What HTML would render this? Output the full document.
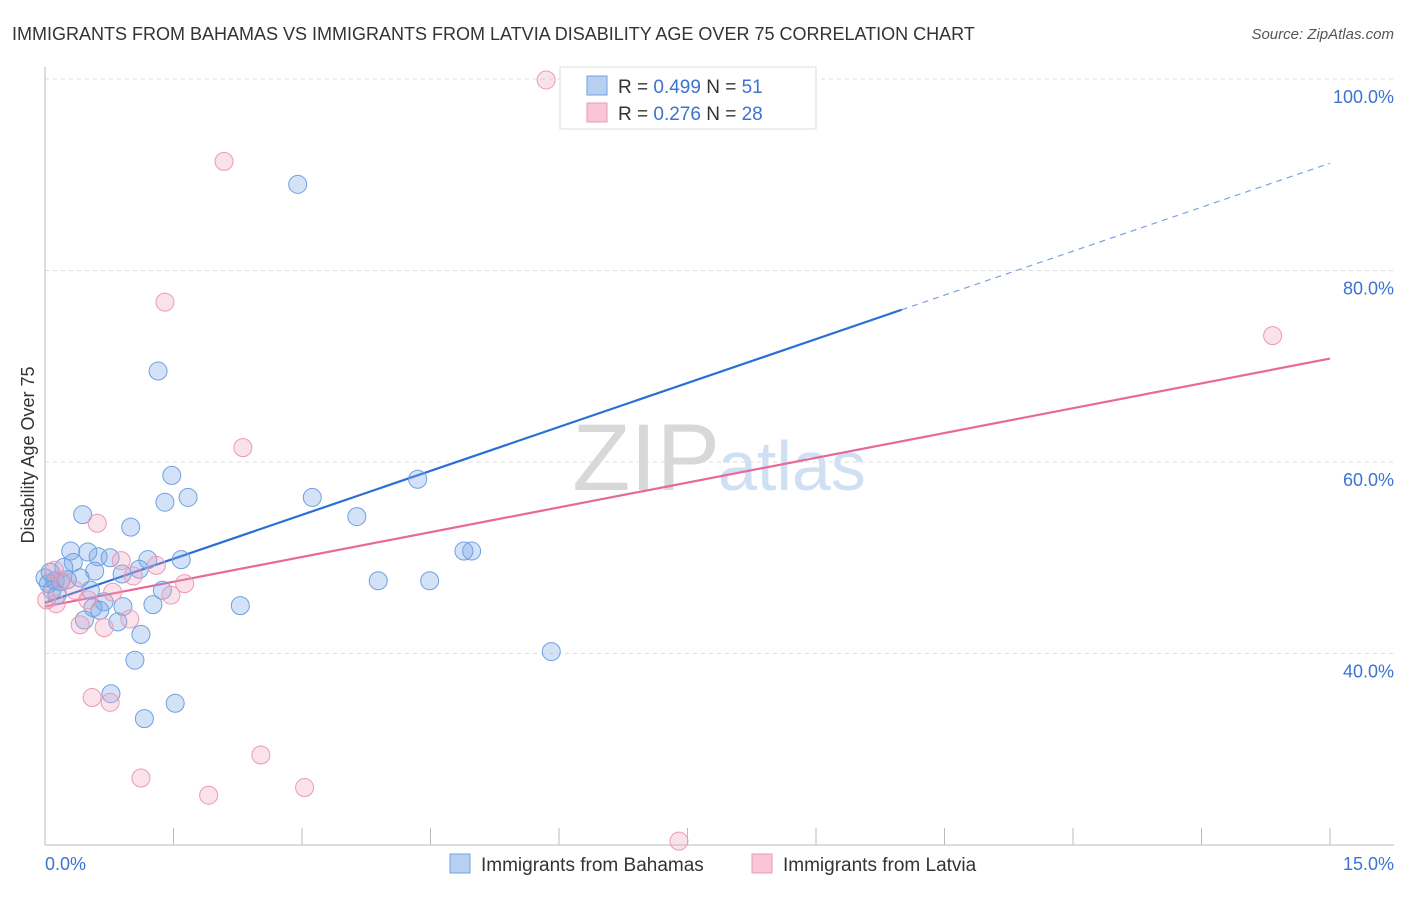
<!DOCTYPE html>
<html><head><meta charset="utf-8"><style>
body{margin:0;background:#fff;font-family:"Liberation Sans",sans-serif;}
svg text{font-family:"Liberation Sans",sans-serif;}
</style></head><body>
<svg width="1406" height="892" viewBox="0 0 1406 892" xmlns="http://www.w3.org/2000/svg">
<text x="12" y="40" font-size="18" fill="#333">IMMIGRANTS FROM BAHAMAS VS IMMIGRANTS FROM LATVIA DISABILITY AGE OVER 75 CORRELATION CHART</text>
<text x="1394" y="39" font-size="15" fill="#555" text-anchor="end" font-style="italic">Source: ZipAtlas.com</text>
<text x="720" y="490" font-size="95" fill="#d8d8d8" text-anchor="end" font-family="Liberation Serif">ZIP</text>
<text x="718" y="490" font-size="70" fill="#cfe0f3">atlas</text>
<g id="grid"></g><g id="axes"></g><g id="lines"></g><g id="pts"></g>
<text transform="translate(34,455) rotate(-90)" font-size="18" fill="#333" text-anchor="middle">Disability Age Over 75</text>
<text x="45" y="870" font-size="18" fill="#3b73d1">0.0%</text>
<text x="1394" y="870" font-size="18" fill="#3b73d1" text-anchor="end">15.0%</text>
<g>
<rect x="560" y="67" width="256" height="62" fill="#fff" stroke="#ddd"/>
<rect x="587" y="76" width="20" height="19" fill="#b7d0f2" stroke="#6fa0e0"/>
<rect x="587" y="103" width="20" height="19" fill="#f8c6d6" stroke="#eb9ab5"/>
<text x="618" y="93" font-size="19" fill="#333">R = <tspan fill="#3b73d1">0.499</tspan>   N =  <tspan fill="#3b73d1">51</tspan></text>
<text x="618" y="120" font-size="19" fill="#333">R =  <tspan fill="#3b73d1">0.276</tspan>   N = <tspan fill="#3b73d1">28</tspan></text>
</g>
<g>
<rect x="450" y="854" width="20" height="19" fill="#b7d0f2" stroke="#6fa0e0"/>
<text x="481" y="871" font-size="19" fill="#333">Immigrants from Bahamas</text>
<rect x="752" y="854" width="20" height="19" fill="#f8c6d6" stroke="#eb9ab5"/>
<text x="783" y="871" font-size="19" fill="#333">Immigrants from Latvia</text>
</g>
</svg>
<script>
const yTicks=[40,60,80,100];
const xTicks=[0,1.5,3,4.5,6,7.5,9,10.5,12,13.5,15];
const blueX=[8.85,2.95,1.32,1.48,1.40,1.67,3.12,4.35,3.64,0.44,1.00,0.30,0.50,0.62,0.76,1.20,1.59,0.33,0.22,0.58,0.90,1.10,0.41,0.12,0.18,0.04,0.08,0.53,1.37,0.69,0.56,0.91,1.26,2.28,3.89,4.49,4.89,4.98,0.46,0.85,1.12,1.05,0.77,1.52,1.16,5.91,0.0,0.06,0.26,0.64,0.14];
const blueY=[99.9,89.0,69.5,58.6,55.8,56.3,56.3,58.2,54.3,54.5,53.2,50.7,50.6,50.1,50.0,49.8,49.8,49.5,49.0,48.6,48.3,48.8,47.9,47.6,47.5,47.3,46.6,46.6,46.6,45.4,44.8,44.9,45.1,45.0,47.6,47.6,50.7,50.7,43.5,43.3,42.0,39.3,35.8,34.8,33.2,40.2,47.9,48.5,47.7,44.5,46.1];
const pinkX=[5.85,2.09,1.40,2.31,14.33,0.61,0.89,1.30,1.03,0.11,0.19,0.35,0.79,1.47,1.63,0.50,0.13,0.02,0.41,0.69,0.99,0.55,0.76,1.12,2.52,1.91,3.03,7.40];
const pinkY=[99.9,91.4,76.7,61.5,73.2,53.6,49.7,49.2,48.1,48.7,47.7,46.6,46.4,46.1,47.3,45.6,45.2,45.6,43.0,42.7,43.6,35.4,34.9,27.0,29.4,25.2,26.0,20.4];
const blueTrend=[45.3,91.2];
const pinkTrend=[44.9,70.8];
const NS='http://www.w3.org/2000/svg';
const sx=v=>45+v*(1330-45)/15;
const sy=v=>845-(v-20)*(845-79)/80;
function mk(t,a,p){const e=document.createElementNS(NS,t);for(const k in a)e.setAttribute(k,a[k]);document.getElementById(p).appendChild(e);return e;}
yTicks.forEach(v=>{
 const g=mk('line',{x1:45,x2:1394,y1:sy(v),y2:sy(v),stroke:'#ddd','stroke-dasharray':'4,4'},'grid');
 
 
 const t=mk('text',{x:1394,y:sy(v)+24,'font-size':18,fill:'#3b73d1','text-anchor':'end'},'grid');
 t.textContent=v.toFixed(1)+'%';
 
 
});
const ax=mk('line',{x1:45,x2:45,y1:67,y2:845,stroke:'#bbb'},'axes');


const bx=mk('line',{x1:45,x2:1394,y1:845,y2:845,stroke:'#bbb'},'axes');


xTicks.forEach(v=>{
 const t=mk('line',{x1:sx(v),x2:sx(v),y1:828,y2:845,stroke:'#bbb'},'axes');
 
 
});
const by=x=>blueTrend[0]+(blueTrend[1]-blueTrend[0])*x/15;
let l=mk('line',{x1:sx(0),y1:sy(by(0)),x2:sx(10),y2:sy(by(10)),stroke:'#2a6fd6','stroke-width':2.2},'lines');


l=mk('line',{x1:sx(10),y1:sy(by(10)),x2:sx(15),y2:sy(by(15)),stroke:'#7aa3e0','stroke-width':1.2,'stroke-dasharray':'6,5'},'lines');


l=mk('line',{x1:sx(0),y1:sy(pinkTrend[0]),x2:sx(15),y2:sy(pinkTrend[1]),stroke:'#e8689a','stroke-width':2.2},'lines');


blueX.forEach((x,i)=>{
 const c=mk('circle',{cx:sx(x),cy:sy(blueY[i]),r:9,fill:'rgba(120,168,230,0.33)',stroke:'#6fa0e0','stroke-width':1},'pts');
 
 
});
pinkX.forEach((x,i)=>{
 const c=mk('circle',{cx:sx(x),cy:sy(pinkY[i]),r:9,fill:'rgba(240,160,190,0.3)',stroke:'#eb9ab5','stroke-width':1},'pts');
 
 
});
</script>
</body></html>
